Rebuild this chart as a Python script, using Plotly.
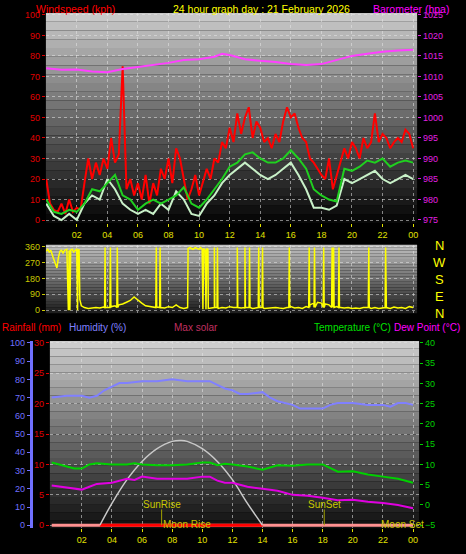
import plotly.graph_objects as go

# ---------------- data ----------------
gust_t = [i * 0.25 for i in range(97)]
gust = [20,8,5,4,8,3,10,4,6,5,18,30,20,28,22,30,25,40,28,32,75,15,20,12,18,10,22,8,18,12,25,20,
        30,18,35,30,20,10,15,22,12,18,25,20,30,28,38,35,45,38,52,42,50,55,40,48,45,38,40,35,42,38,
        48,55,50,52,45,40,38,30,28,25,22,20,30,15,22,28,35,30,38,35,30,40,35,38,52,38,42,40,35,38,
        40,38,44,42,35]
avg_t = [i * 0.5 for i in range(49)]
avg = [10,4,3,5,4,8,15,14,18,22,12,10,5,8,10,8,10,12,16,8,6,10,15,20,26,28,32,33,30,28,28,30,
       34,30,25,15,12,10,9,25,24,26,29,28,30,26,28,29,28]
spd = [8,2,0,3,0,8,12,10,20,15,8,5,3,5,3,8,5,14,10,3,2,8,12,18,22,25,28,25,22,20,22,25,
       28,22,15,6,6,5,7,20,18,20,22,24,20,18,20,22,20]
baro_t = [0,1,2,3,4,5,6,7,8,9,10,11,11.5,12,13,14,15,16,17,18,19,20,21,22,23,24]
baro = [1012,1011.6,1011.7,1011.2,1011,1011.8,1012.3,1012.8,1013.3,1014,1014.2,1014.8,1015.5,1015.2,
        1014.2,1013.8,1013.5,1013,1012.8,1013,1014,1015,1015.5,1016,1016.3,1016.5]

dir_t = [0,0.1,0.2,0.3,0.45,0.6,0.7,0.8,0.9,1.0,1.1,1.2,1.35,1.45,1.5,1.55,1.6,1.7,1.8,1.9,2.0,2.05,2.1,2.15,
         2.2,2.3,2.5,2.75,3,3.25,3.5,3.75,4,4.25,4.5,4.75,5,5.25,5.5,5.75,6,6.25,6.5,6.75,7,7.25,7.5,7.75,
         8,8.25,8.5,8.75,9,9.25,9.28,9.4,9.5,9.6,9.75,9.9,10.0,10.1,10.2,10.25,10.3,10.4,10.45,10.5,10.58,
         10.6,10.75,11,11.25,11.5,11.75,12,12.25,12.5,12.75,13,13.25,13.5,13.75,14,14.25,14.5,14.75,15,15.25,
         15.5,15.75,16,16.25,16.5,16.75,17,17.25,17.5,17.75,18,18.25,18.5,18.75,19,19.25,19.5,19.75,20,20.25,
         20.5,20.75,21,21.25,21.5,21.75,22,22.25,22.5,22.75,23,23.25,23.5,23.75,24]
dir_v = [335,345,330,340,300,270,240,300,335,340,325,340,345,0,340,0,340,345,330,340,345,0,340,345,
         60,25,15,10,12,15,12,18,15,20,25,30,35,45,55,75,55,40,25,20,15,18,15,12,
         20,15,30,15,10,15,350,355,350,345,355,350,345,355,345,5,350,340,5,350,345,
         10,12,15,10,15,12,20,15,15,12,10,15,10,12,15,10,12,10,15,12,
         10,15,20,12,15,10,20,30,40,45,40,35,30,40,20,15,12,15,10,12,
         10,15,12,10,15,10,12,15,10,18,12,15,10,20,15]
spikes = [3.85,4.2,4.65,7.2,7.45,11.0,11.2,12.5,13.0,13.3,13.9,14.15,15.9,17.2,17.55,18.15,18.7,18.8,19.15,21.1,22.2]

hum_t = [0,1,2,2.5,3,3.5,4,4.5,5,6,7,8,9,10,10.5,11,11.5,12,12.5,13,14,14.5,15,16,16.5,17,18,18.5,19,20,21,22,22.5,23,23.5,24]
hum = [70,71,71,70,71,74,76,78,78,79,79,80,79,79,79,77,75,74,72,72,73,70,68,66,64,64,64,66,67,67,66,66,65,67,67,66]
temp_t = [0,1,1.5,2,2.5,3,4,5,5.5,6,7,8,9,10,10.5,11,11.5,12,13,14,15,16,17,18,19,20,21,22,23,24]
temp = [10.5,9.5,9,9,10,10.3,10,10,10.3,10,9.8,9.8,10,10.5,10.5,9.8,10.2,10,9.5,8.7,9.8,9.7,10,10,8.2,8.3,7.5,7,6.5,5.5]
dew = [4.8,4.3,4,3.8,4.5,5.2,5.5,6.5,6.2,7,6.5,6.5,6.5,7,7,6,5.5,5.5,4.5,4,3.5,2.5,2.3,1.8,1.2,1.3,0.8,0.5,0,-0.8]
sol_t = [3.2,4,5,6,7,8,8.6,9,10,11,12,13,14]
sol = [0,12,25,35,42,46,46.5,46,42,35,25,12,0]
rain_t = [0,24]
rain = [0,0]

xticks = [2,4,6,8,10,12,14,16,18,20,22,24]
xlabels = ["02","04","06","08","10","12","14","16","18","20","22","00"]

# ---------- build direction series with spikes ----------
pts = list(zip(dir_t, dir_v))
for s in spikes:
    pts += [(s - 0.03, 15), (s, 355), (s + 0.03, 15)]
pts.sort()
dt = [p[0] for p in pts]
dv = [p[1] for p in pts]

W, H = 466, 554
def py(p):  # pixel y -> paper
    return 1 - p / H

fig = go.Figure()
fig.add_trace(go.Scatter(x=gust_t, y=gust, mode="lines", line=dict(color="#ff0000", width=2), xaxis="x", yaxis="y"))
fig.add_trace(go.Scatter(x=avg_t, y=spd, mode="lines", line=dict(color="#c8f0c8", width=2), xaxis="x", yaxis="y"))
fig.add_trace(go.Scatter(x=avg_t, y=avg, mode="lines", line=dict(color="#20d020", width=2), xaxis="x", yaxis="y"))
fig.add_trace(go.Scatter(x=baro_t, y=baro, mode="lines", line=dict(color="#ff40ff", width=2), xaxis="x", yaxis="y2"))
fig.add_trace(go.Scatter(x=dt, y=dv, mode="lines", line=dict(color="#ffff00", width=1.5), xaxis="x2", yaxis="y3"))
fig.add_trace(go.Scatter(x=rain_t, y=rain, mode="lines", line=dict(color="#ff9090", width=3), xaxis="x3", yaxis="y4"))
fig.add_trace(go.Scatter(x=[sol_t[0], sol_t[-1]], y=[0, 0], mode="lines", line=dict(color="#ff0000", width=3), xaxis="x3", yaxis="y4"))
fig.add_trace(go.Scatter(x=hum_t, y=hum, mode="lines", line=dict(color="#8080ff", width=2), xaxis="x3", yaxis="y5"))
fig.add_trace(go.Scatter(x=sol_t, y=sol, mode="lines", line=dict(color="#c8c8c8", width=1.5, shape="spline"), xaxis="x3", yaxis="y5"))
fig.add_trace(go.Scatter(x=temp_t, y=temp, mode="lines", line=dict(color="#00d000", width=2), xaxis="x3", yaxis="y6"))
fig.add_trace(go.Scatter(x=temp_t, y=dew, mode="lines", line=dict(color="#e000e0", width=2), xaxis="x3", yaxis="y6"))

font = "Liberation Sans, DejaVu Sans"
grid = dict(showgrid=True, gridcolor="rgba(230,230,230,0.55)", griddash="dot", gridwidth=1, zeroline=False)
tf = lambda c: dict(family=font, size=9, color=c)

fig.update_layout(
    width=W, height=H, margin=dict(l=0, r=0, t=0, b=0),
    paper_bgcolor="black", plot_bgcolor="black", showlegend=False,
    xaxis=dict(domain=[46/W, 418/W], range=[-0.02, 24.26], tickvals=xticks, ticktext=xlabels,
               tickfont=tf("#e0e000"), anchor="y", ticks="outside", ticklen=3, tickcolor="#e0e000", **grid),
    yaxis=dict(domain=[py(222), py(10)], range=[-1.45, 101], tickvals=list(range(0, 101, 10)),
               tickfont=tf("#e00000"), ticks="outside", ticklen=3, tickcolor="#e00000", **grid),
    yaxis2=dict(overlaying="y", side="right", anchor="x", range=[974.27, 1025.48],
                tickvals=list(range(975, 1026, 5)), tickfont=tf("#e020e0"), showgrid=False, zeroline=False,
                ticks="outside", ticklen=3, tickcolor="#e020e0"),
    xaxis2=dict(domain=[46/W, 418/W], range=[-0.02, 24.26], anchor="y3", tickvals=xticks,
                showticklabels=False, **grid),
    yaxis3=dict(domain=[py(313), py(244)], range=[-17, 371], anchor="x2", tickvals=[0, 90, 180, 270, 360],
                tickfont=tf("#c8c800"), ticks="outside", ticklen=3, tickcolor="#c8c800", **grid),
    xaxis3=dict(domain=[50/W, 420/W], range=[-0.12, 24.4], anchor="y4", tickvals=xticks, ticktext=xlabels,
                tickfont=tf("#e0e000"), ticks="outside", ticklen=3, tickcolor="#e0e000", **grid),
    yaxis4=dict(domain=[py(530), py(341)], range=[-0.49, 30.33], anchor="x3", tickvals=list(range(0, 31, 5)),
                tickfont=tf("#e00000"), ticks="outside", ticklen=3, tickcolor="#e00000", **grid),
    yaxis5=dict(overlaying="y4", side="left", anchor="free", position=31/W, range=[-1.63, 101.09],
                tickvals=list(range(0, 101, 10)), tickfont=tf("#7070ff"), showgrid=False, zeroline=False,
                showline=True, linecolor="#7070ff", linewidth=3, ticks="outside", ticklen=3, tickcolor="#7070ff"),
    yaxis6=dict(overlaying="y4", side="right", anchor="x3", range=[-5.73, 40.49],
                tickvals=list(range(-5, 41, 5)), tickfont=tf("#00d000"), showgrid=False, zeroline=False,
                ticks="outside", ticklen=3, tickcolor="#00d000"),
)

# gradient backgrounds
shapes = []
def grad(xr, yr, top, bot, n=24):
    for i in range(n):
        f = i / n
        c = int(top + (bot - top) * f)
        shapes.append(dict(type="rect", xref=xr + " domain", yref=yr + " domain", layer="below",
                           x0=0, x1=1, y0=1 - (i + 1) / n, y1=1 - i / n,
                           fillcolor=f"rgb({c},{c},{c})", line=dict(width=0)))
grad("x", "y", 200, 0)
grad("x2", "y3", 190, 25)
grad("x3", "y4", 205, 10)
for t in [7.3, 18.1]:
    shapes.append(dict(type="line", xref="x3", yref="y4", x0=t, x1=t, y0=0, y1=2.6,
                       line=dict(color="#a0a000", width=1)))
fig.update_layout(shapes=shapes)

def ann(x, y, text, color, size=10.5, xanchor="left", xref="paper", yref="paper"):
    fig.add_annotation(x=x, y=y, xref=xref, yref=yref, text=text, showarrow=False,
                       font=dict(family=font, size=size, color=color), xanchor=xanchor, yanchor="middle")

ann(34/W, py(6), "Windspeed (kph)", "#ff0000")
ann(262/W, py(6), "24 hour graph day : 21 February 2026", "#ffff00", xanchor="center")
ann(372/W, py(6), "Barometer (hpa)", "#ff00ff")
for i, l in enumerate(["N", "W", "S", "E", "N"]):
    ann(440/W, py(245 + i * 17), l, "#ffff00", size=13, xanchor="center")
ann(0, py(327), "Rainfall (mm)", "#ff0000", size=10)
ann(67/W, py(327), "Humidity (%)", "#8080ff", size=10)
ann(172/W, py(327), "Max solar", "#c03060", size=10)
ann(313/W, py(327), "Temperature (°C)", "#00e000", size=10)
ann(393/W, py(327), "Dew Point (°C)", "#ff00ff", size=10)
ann(7.3, 3.4, "SunRise", "#c8c800", size=10, xanchor="center", xref="x3", yref="y4")
ann(18.1, 3.4, "SunSet", "#c8c800", size=10, xanchor="center", xref="x3", yref="y4")
ann(9.0, 0.2, "Moon Rise", "#c8c800", size=10, xanchor="center", xref="x3", yref="y4")
ann(23.3, 0.2, "Moon Set", "#c8c800", size=10, xanchor="center", xref="x3", yref="y4")

fig.write_html("out.html", config={"displayModeBar": False},
               post_script="document.body.style.margin='0';document.body.style.background='black';document.body.style.overflow='hidden';")
